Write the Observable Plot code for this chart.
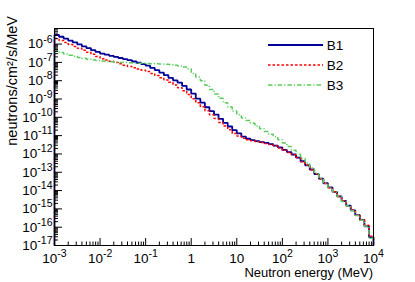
<!DOCTYPE html>
<html><head><meta charset="utf-8">
<script src="https://cdn.jsdelivr.net/npm/d3@7"></script>
<script src="https://cdn.jsdelivr.net/npm/@observablehq/plot@0.6"></script>
<style>
html,body{margin:0;padding:0;background:#fff;}
#chart{width:415px;height:282px;}
</style></head><body><div id="chart"></div>
<script>
// ---- data (log10 of flux, neutrons/cm2/s/MeV), 10 log bins per decade from 1e-3 to 1e4 MeV
const seriesNames = ["B1", "B2", "B3"];
const seriesColors = ["#000099", "#ff0000", "#5ccc5c"];
const binsPerDecade = 10;
const energyRange = [1e-3, 1e4];
const fluxRange = [1e-17, 7.1e-6];

const logB1 = [-5.50,-5.60,-5.70,-5.81,-5.91,-6.02,-6.12,-6.22,-6.33,-6.43,
  -6.52,-6.58,-6.64,-6.70,-6.76,-6.82,-6.88,-6.95,-7.02,-7.09,
  -7.18,-7.30,-7.42,-7.56,-7.70,-7.84,-7.98,-8.10,-8.28,-8.48,
  -8.70,-8.98,-9.20,-9.45,-9.66,-9.85,-10.08,-10.30,-10.50,-10.70,
  -10.88,-11.05,-11.17,-11.25,-11.30,-11.35,-11.40,-11.46,-11.54,-11.64,
  -11.78,-11.90,-12.03,-12.20,-12.40,-12.62,-12.85,-13.10,-13.35,-13.60,
  -13.83,-14.07,-14.32,-14.57,-14.82,-15.08,-15.34,-15.60,-15.95,-16.56];
const logB2 = [-5.70,-5.80,-5.91,-6.02,-6.13,-6.23,-6.34,-6.45,-6.56,-6.68,
  -6.80,-6.87,-6.94,-7.01,-7.08,-7.15,-7.22,-7.29,-7.36,-7.43,
  -7.50,-7.60,-7.72,-7.84,-7.96,-8.09,-8.23,-8.38,-8.55,-8.75,
  -8.98,-9.20,-9.42,-9.64,-9.86,-10.06,-10.28,-10.48,-10.68,-10.88,
  -11.02,-11.14,-11.22,-11.28,-11.33,-11.38,-11.43,-11.49,-11.57,-11.67,
  -11.80,-11.92,-12.05,-12.20,-12.42,-12.62,-12.86,-13.08,-13.36,-13.60,
  -13.85,-14.06,-14.33,-14.56,-14.84,-15.06,-15.35,-15.58,-15.90,-16.50];
const logB3 = [-6.36,-6.46,-6.54,-6.61,-6.67,-6.73,-6.78,-6.83,-6.87,-6.90,
  -6.93,-6.95,-6.97,-6.99,-7.00,-7.01,-7.02,-7.03,-7.04,-7.05,
  -7.06,-7.07,-7.08,-7.09,-7.10,-7.12,-7.15,-7.19,-7.25,-7.35,
  -7.60,-7.80,-8.00,-8.25,-8.48,-8.72,-8.96,-9.20,-9.44,-9.66,
  -9.86,-10.03,-10.18,-10.33,-10.47,-10.62,-10.77,-10.92,-11.06,-11.22,
  -11.40,-11.60,-11.80,-12.02,-12.25,-12.50,-12.76,-13.05,-13.33,-13.60,
  -13.86,-14.08,-14.34,-14.60,-14.84,-15.10,-15.36,-15.62,-15.95,-16.60];
const seriesLogs = [logB1, logB2, logB3];

const xMajorTicks = [1e-3, 1e-2, 1e-1, 1, 10, 1e2, 1e3, 1e4];
const yMajorTicks = [1e-17,1e-16,1e-15,1e-14,1e-13,1e-12,1e-11,1e-10,1e-9,1e-8,1e-7,1e-6];
const minorMultipliers = [2,3,4,5,6,7,8,9];

const xTitle = "Neutron energy (MeV)";
const yTitle = "neutrons/cm\u00b2/s/MeV";

// ---- build step-histogram outlines
const nBins = seriesLogs[0].length;
const logEmin = Math.log10(energyRange[0]);
const edges = d3.range(nBins + 1).map(i => Math.pow(10, logEmin + i / binsPerDecade));
function outline(logs, name) {
  const pts = [{E: edges[0], F: fluxRange[0], s: name}];
  logs.forEach((v, i) => pts.push({E: edges[i], F: Math.pow(10, v), s: name}));
  pts.push({E: edges[nBins], F: Math.pow(10, logs[nBins - 1]), s: name});
  pts.push({E: edges[nBins], F: fluxRange[0], s: name});
  return pts;
}
const lines = seriesNames.map((n, i) => outline(seriesLogs[i], n));

const xMinorTicks = [];
xMajorTicks.slice(0, -1).forEach(t => minorMultipliers.forEach(m => xMinorTicks.push(t * m)));
const yMinorTicks = [];
yMajorTicks.forEach(t => minorMultipliers.forEach(m => { if (t * m < fluxRange[1]) yMinorTicks.push(t * m); }));

const fmt = d => {
  const e = Math.round(Math.log10(d));
  if (e === 0) return "1";
  if (e === 1) return "10";
  return "10^" + e;
};

const W = 415, H = 282, mL = 54, mR = 42, mT = 28, mB = 37;
const pw = W - mL - mR, ph = H - mT - mB;
const dashes = [null, "2.5,2", "4.5,2,1.2,2"];
const widths = [1.8, 1.5, 1.5];

const plot = Plot.plot({
  width: W, height: H,
  marginLeft: mL, marginRight: mR, marginTop: mT, marginBottom: mB,
  style: {fontFamily: "'Liberation Sans', Arial, Helvetica, sans-serif", background: "#fff", color: "#000"},
  x: {type: "log", domain: energyRange},
  y: {type: "log", domain: fluxRange},
  marks: [
    ...lines.map((d, i) => Plot.line(d, {x: "E", y: "F", curve: "step-after", stroke: seriesColors[i],
      strokeWidth: widths[i], strokeDasharray: dashes[i], strokeLinejoin: "miter", strokeLinecap: "butt"})),
    Plot.ruleX(xMajorTicks, {x: d => d, insetTop: ph - 7, stroke: "#000", strokeWidth: 1}),
    Plot.ruleX(xMinorTicks, {x: d => d, insetTop: ph - 3.5, stroke: "#000", strokeWidth: 1}),
    Plot.ruleY(yMajorTicks, {y: d => d, insetRight: pw - 8, stroke: "#000", strokeWidth: 1}),
    Plot.ruleY(yMinorTicks, {y: d => d, insetRight: pw - 4, stroke: "#000", strokeWidth: 1}),
    Plot.axisX({ticks: xMajorTicks, tickSize: 0, tickPadding: 8, tickFormat: fmt, fontSize: 13.5, label: null}),
    Plot.axisY({ticks: yMajorTicks, tickSize: 0, tickPadding: 2, tickFormat: fmt, fontSize: 13.5, label: null}),
    Plot.frame({stroke: "#000", strokeWidth: 1})
  ]
});
document.getElementById("chart").appendChild(plot);

const svg = d3.select(plot);
svg.selectAll('g[aria-label$="tick label"] text').each(function() {
  const t = this.textContent;
  if (t.includes("^")) {
    const [b, e] = t.split("^");
    this.textContent = "";
    const s = d3.select(this);
    s.append("tspan").text(b);
    s.append("tspan").attr("dy", "-0.55em").attr("font-size", "0.78em").text(e);
  }
});

// axis titles
svg.append("text").attr("x", mL + pw).attr("y", 277).attr("text-anchor", "end")
  .attr("font-size", 13).attr("fill", "#000").text(xTitle);
svg.append("text").attr("transform", `translate(17,16) rotate(-90)`).attr("text-anchor", "end")
  .attr("font-size", 14.5).attr("fill", "#000").text(yTitle);

// legend
const lg = svg.append("g");
seriesNames.forEach((n, i) => {
  const y = 45 + i * 20;
  lg.append("line").attr("x1", 268).attr("x2", 323).attr("y1", y).attr("y2", y)
    .attr("stroke", seriesColors[i]).attr("stroke-width", widths[i])
    .attr("stroke-dasharray", dashes[i]);
  lg.append("text").attr("x", 335).attr("y", y).attr("dy", "0.35em")
    .attr("font-size", 13.5).attr("fill", "#000").text(n);
});
</script></body></html>
